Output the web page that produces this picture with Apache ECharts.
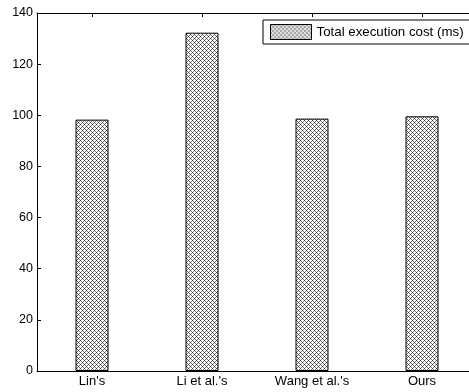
<!DOCTYPE html>
<html><head><meta charset="utf-8">
<script src="https://cdn.jsdelivr.net/npm/echarts@6/dist/echarts.min.js"></script>
<style>html,body{margin:0;padding:0;background:#fff}#c{width:469px;height:392px}</style>
</head><body><div id="c"></div>
<script>
var categories = ["Lin's", "Li et al.'s", "Wang et al.'s", "Ours"];
var seriesName = 'Total execution cost (ms)';
var values = [98.3, 132.3, 98.7, 99.6];
var yTicks = [0, 20, 40, 60, 80, 100, 120, 140];

function makePattern() {
  var n = 4;
  var c = document.createElement('canvas');
  c.width = n; c.height = n;
  var ctx = c.getContext('2d');
  var img = ctx.createImageData(n, n);
  for (var y = 0; y < n; y++) for (var x = 0; x < n; x++) {
    var i = (y * n + x) * 4;
    var v = 255;
    var a = (x + y) % n === 0, b = ((x - y) % n + n) % n === 0;
    if (a && b) v = 50;
    else if (a || b) v = 120;
    img.data[i] = v; img.data[i+1] = v; img.data[i+2] = v; img.data[i+3] = 255;
  }
  ctx.putImageData(img, 0, 0);
  return c;
}
var pat = { image: makePattern(), repeat: 'repeat' };

var chart = echarts.init(document.getElementById('c'));
var fam = 'Liberation Sans, Arial, sans-serif';
chart.setOption({
  animation: false,
  grid: { left: 37, top: 13, width: 440, bottom: 21, outerBoundsMode: 'none', containLabel: false },
  legend: {
    data: [seriesName], left: 263, top: 20,
    itemWidth: 41, itemHeight: 15, itemGap: 4,
    padding: [4, 6, 4, 7],
    borderColor: '#000', borderWidth: 1, backgroundColor: '#fff',
    textStyle: { fontFamily: fam, fontSize: 13.3, color: '#000' },
    icon: 'rect',
    itemStyle: { color: pat, borderColor: '#000', borderWidth: 1 }
  },
  xAxis: [{
    type: 'category', data: categories, position: 'bottom',
    axisLine: { lineStyle: { color: '#000', width: 1 } },
    axisTick: { show: true, inside: true, alignWithLabel: true, length: 4, lineStyle: { color: '#000' } },
    axisLabel: { margin: 4, fontFamily: fam, fontSize: 13, color: '#000' }
  }, {
    type: 'category', data: categories, position: 'top',
    axisLine: { lineStyle: { color: '#000', width: 1 } },
    axisTick: { show: true, inside: true, alignWithLabel: true, length: 4, lineStyle: { color: '#000' } },
    axisLabel: { show: false }
  }],
  yAxis: {
    type: 'value', min: yTicks[0], max: yTicks[yTicks.length - 1], interval: 20,
    axisLine: { show: true, lineStyle: { color: '#000', width: 1 } },
    axisTick: { show: true, inside: true, length: 4, lineStyle: { color: '#000' } },
    axisLabel: { margin: 4, fontFamily: fam, fontSize: 12.5, color: '#000' },
    splitLine: { show: false }
  },
  series: [{
    name: seriesName, type: 'bar', data: values, barWidth: 33,
    itemStyle: { color: pat, borderColor: '#000', borderWidth: 1 }
  }]
});
</script></body></html>
